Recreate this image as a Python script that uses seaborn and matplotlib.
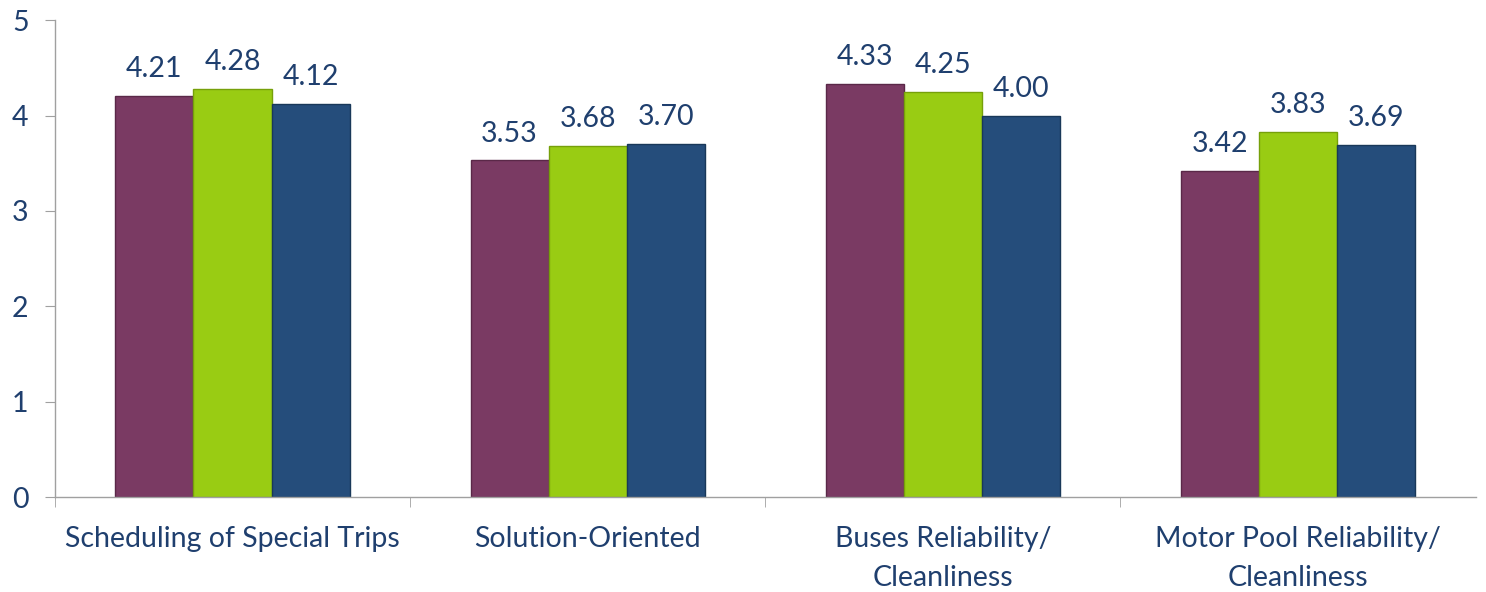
import pandas as pd
import matplotlib
import matplotlib.pyplot as plt
import seaborn as sns

categories = ['Scheduling of Special Trips', 'Solution-Oriented',
              'Buses Reliability/\nCleanliness', 'Motor Pool Reliability/\nCleanliness']
series = ['Series 1', 'Series 2', 'Series 3']
values_1 = [4.21, 3.53, 4.33, 3.42]
values_2 = [4.28, 3.68, 4.25, 3.83]
values_3 = [4.12, 3.70, 4.00, 3.69]

colors = ['#7A3A63', '#99CC13', '#254D7B']
edges = ['#5A2848', '#76A00A', '#193859']
text_color = '#1F3F6E'

rows = []
for s, vals in zip(series, [values_1, values_2, values_3]):
    for c, v in zip(categories, vals):
        rows.append({'category': c, 'series': s, 'value': v})
df = pd.DataFrame(rows)

sns.set_style('white')
matplotlib.rcParams['font.family'] = ['Lato', 'DejaVu Sans']

fig = plt.figure(figsize=(14.86, 5.92), dpi=100)
ax = fig.add_axes([0.037, 0.16, 0.956, 0.806])

sns.barplot(data=df, x='category', y='value', hue='series', palette=colors,
            width=0.66, gap=0, legend=False, ax=ax, saturation=1)

for i, cont in enumerate(ax.containers):
    for bar in cont:
        bar.set_edgecolor(edges[i])
        bar.set_linewidth(1.0)
    ax.bar_label(cont, fmt='%.2f', padding=10, fontsize=20.5, color=text_color)

ax.set_ylim(0, 5)
ax.set_xlim(-0.5, 3.5)
ax.set_yticks(range(6))
ax.set_xlabel('')
ax.set_ylabel('')
ax.set_xticks(range(4))
ax.set_xticklabels(categories, linespacing=1.6)
ax.set_xticks([-0.5, 0.5, 1.5, 2.5], minor=True)
ax.tick_params(axis='x', which='major', length=0, pad=21, labelsize=20.5, labelcolor=text_color)
ax.tick_params(axis='x', which='minor', length=7, color='#A0A0A0', direction='out', bottom=True)
ax.tick_params(axis='y', length=7, color='#A0A0A0', direction='out', left=True, pad=12,
               labelsize=20.5, labelcolor=text_color)

for side in ['top', 'right']:
    ax.spines[side].set_visible(False)
for side in ['left', 'bottom']:
    ax.spines[side].set_color('#A0A0A0')
    ax.spines[side].set_linewidth(1.0)

plt.savefig('out.png', dpi=100)
